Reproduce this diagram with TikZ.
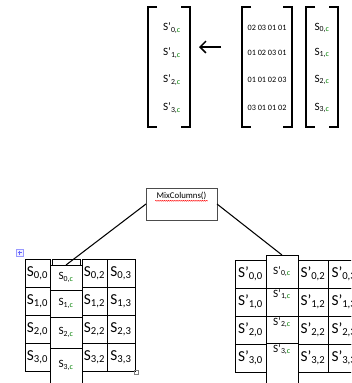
\documentclass[tikz,border=0pt]{standalone}
\usepackage{fontspec}
\setmainfont{Carlito}
\usetikzlibrary{arrows.meta,decorations.pathmorphing}
\newcommand{\csub}[1]{\textsubscript{#1,\textcolor{green!50!black}{c}}}
\tikzset{
  cell/.style={
    draw, thin,
    outer sep=0, inner sep=0,
    minimum height=0.84cm,
    font=\fontsize{13}{15}\selectfont
  },
  colcell/.style={
    draw, thin, fill=white,
    outer sep=0, inner sep=0,
    minimum width=0.96cm,
    font=\fontsize{9.5}{11}\selectfont
  },
  entry/.style={font=\fontsize{9.5}{11}\selectfont, inner sep=1pt},
  coef/.style={font=\fontsize{7}{8}\selectfont, inner sep=1pt},
  brak/.style={line width=1.4pt},
  link/.style={line width=0.9pt}
}

\begin{document}
\begin{tikzpicture}[x=0.03cm,y=-0.03cm]
\useasboundingbox (0,0) rectangle (351,383);
\clip (0,0) rectangle (351,383);

%%%%%%%%% matrix product
\foreach \xl/\xr in {148/190, 242/292, 306/338}{
  \draw[brak] (\xl+9,7) -- (\xl,7) -- (\xl,127) -- (\xl+9,127);
  \draw[brak] (\xr-9,7) -- (\xr,7) -- (\xr,127) -- (\xr-9,127);
}
\foreach \i/\y in {0/28,1/53,2/80,3/108}{
  \node[entry] (P\i) at (172,\y) {S’\csub{\i}};
  \node[entry] (V\i) at (322,\y) {S\csub{\i}};
}
\foreach \i/\y/\t in {0/28/02 03 01 01, 1/53/01 02 03 01, 2/80/01 01 02 03, 3/108/03 01 01 02}
  \node[coef] (M\i) at (267,\y) {\t};

\coordinate (arrS) at (221,47);
\coordinate (arrE) at (199,47);
\draw[line width=1.3pt, -{Straight Barb[length=5pt, width=10pt]}] (arrS) -- (arrE);

%%%%%%%%% state before
\foreach \r in {0,...,3}
  \foreach \c/\xm/\w in {0/37.5/25, 1/66/28, 2/94.5/25, 3/121/28}
    \node[cell, minimum width=\w*0.03cm] (L\r\c) at (\xm,273+28*\r)
      {\ifnum\c=1 \else S\textsubscript{\r,\c}\fi};

%%%%%%%%% state after
\foreach \r in {0,...,3}
  \foreach \c/\xm/\w in {0/250.5/31, 1/282/32, 2/313/30, 3/344/32}
    \node[cell, minimum width=\w*0.03cm] (R\r\c) at (\xm,274+28*\r)
      {\ifnum\c=1 \else S’\textsubscript{\r,\c}\fi};

%%%%%%%%% column taken out (left)
\foreach \i/\y/\h in {0/277.5/25, 1/303.5/27, 2/332.5/31, 3/365.5/35}
  \node[colcell, minimum height=\h*0.03cm] (Lc\i) at (66,\y) {S\csub{\i}};
\foreach \i in {0,1,2}
  \draw[thick] (Lc\i.south west) -- (Lc\i.south east);

%%%%%%%%% column put back (right)
\node[colcell, minimum height=0.99cm] (Rc0) at (282,271.5) {S’\csub{0}};
\foreach \i/\y/\h in {1/302/28, 2/329.5/27, 3/363/40}
  \node[colcell, minimum height=\h*0.03cm,
        label={[font=\fontsize{9.5}{11}\selectfont, anchor=north, inner sep=1pt]north:S’\csub{\i}}]
        (Rc\i) at (282,\y) {};
\foreach \i in {0,1,2}
  \draw[thick] (Rc\i.south west) -- (Rc\i.south east);

%%%%%%%%% MixColumns box
\node[draw=black!70, fill=white, outer sep=0,
      minimum width=2.13cm, minimum height=0.96cm,
      label={[name=mixtxt, anchor=north, font=\fontsize{7.5}{9}\selectfont, inner sep=1pt, yshift=-2pt]north:MixColumns()}]
      (mix) at (181.5,204) {};
\draw[red, decorate, decoration={snake, amplitude=0.35pt, segment length=1.8pt}]
  (mixtxt.south west) -- (mixtxt.south east);

\draw[link] (mix.west) -- (Lc0.north);
\draw[link] (mix.east) -- (Rc0.north);

%%%%%%%%% table handles
\draw[blue!40, fill=blue!5] (16,249) rectangle (23,256);
\draw[blue!60] (17.5,252.5) -- (21.5,252.5) (19.5,250.5) -- (19.5,254.5);
\draw[gray] (134,370) rectangle (138,374);

\end{tikzpicture}
\end{document}
